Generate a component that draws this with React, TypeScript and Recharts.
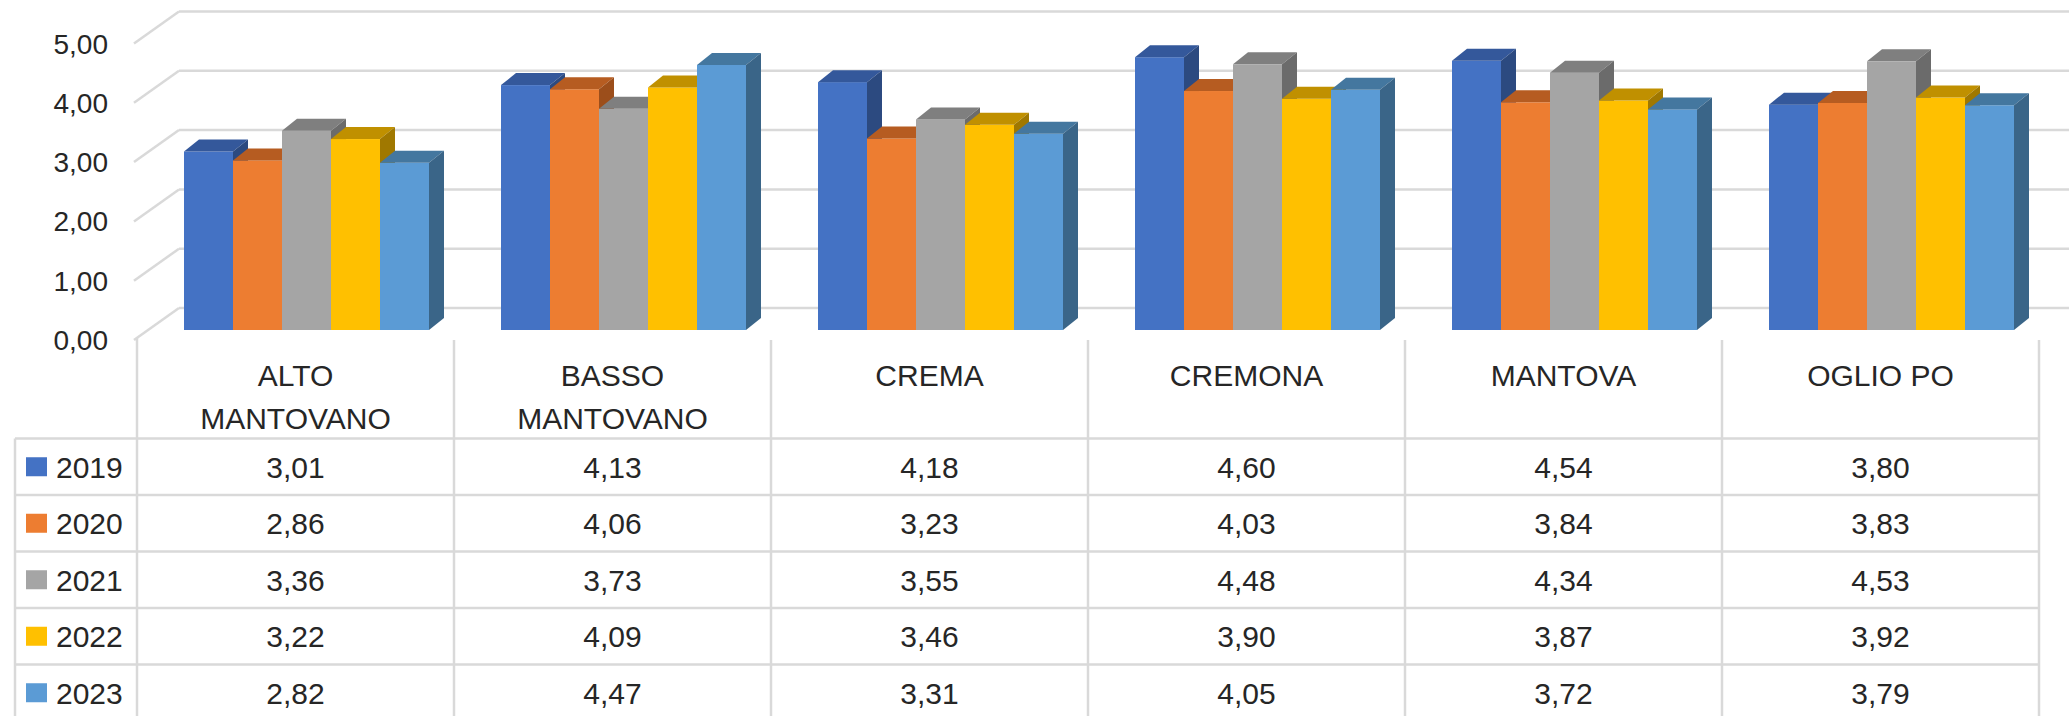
import React from "react";
import { BarChart, Bar, XAxis, YAxis, CartesianGrid } from "recharts";

// ---------- data ----------
const categories = ["ALTO MANTOVANO", "BASSO MANTOVANO", "CREMA", "CREMONA", "MANTOVA", "OGLIO PO"];
const categoryLabelLines = [["ALTO", "MANTOVANO"], ["BASSO", "MANTOVANO"], ["CREMA"], ["CREMONA"], ["MANTOVA"], ["OGLIO PO"]];
const seriesNames = ["2019", "2020", "2021", "2022", "2023"];
const values2019 = [3.01, 4.13, 4.18, 4.6, 4.54, 3.8];
const values2020 = [2.86, 4.06, 3.23, 4.03, 3.84, 3.83];
const values2021 = [3.36, 3.73, 3.55, 4.48, 4.34, 4.53];
const values2022 = [3.22, 4.09, 3.46, 3.9, 3.87, 3.92];
const values2023 = [2.82, 4.47, 3.31, 4.05, 3.72, 3.79];
const yTicks = [0, 1, 2, 3, 4, 5];

const seriesValues = [values2019, values2020, values2021, values2022, values2023];
const data = categories.map((c, i) => {
  const row: any = { name: c };
  seriesNames.forEach((s, k) => (row[s] = seriesValues[k][i]));
  return row;
});

// ---------- styles ----------
const frontColors = ["#4472C4", "#ED7D31", "#A5A5A5", "#FFC000", "#5B9BD5"];
const topColors = ["#34589b", "#b65c21", "#7f7f7f", "#c09000", "#44779f"];
const sideColors = ["#2c4a80", "#9c4e1b", "#6b6b6b", "#a07800", "#3a6588"];

const W = 2069;
const H = 716;
const PLOT_LEFT = 137;
const PLOT_RIGHT = 2039;
const PLOT_TOP = 33.5;
const PLOT_BOTTOM = 330;
const FONT = "'Liberation Sans', Arial, sans-serif";
const TEXT = "#262626";
const GRID = "#d9d9d9";

const BAR_DX = 11;
const DEPTH_X = 15;
const DEPTH_Y = 12;
const FRONT_DY = 10;
const BACK_DY = -22;
const FRONT_X = 134;
const BACK_X = 179;

const TABLE_TOP = PLOT_BOTTOM + FRONT_DY;
const HEADER_BOTTOM = 438.5;
const ROW_H = 56.5;
const LEGEND_LEFT = 15;

const fmt = (v: number) => v.toFixed(2).replace(".", ",");

const make3DShape = (k: number) => (props: any) => {
  const { x, y, width, height } = props;
  if (width == null || height == null) return <g />;
  const fx = x + BAR_DX;
  const fy = y;
  const w = width;
  const h = height;
  return (
    <g>
      <rect x={fx} y={fy} width={w} height={h} fill={frontColors[k]} />
      <polygon
        points={`${fx},${fy} ${fx + DEPTH_X},${fy - DEPTH_Y} ${fx + w + DEPTH_X},${fy - DEPTH_Y} ${fx + w},${fy}`}
        fill={topColors[k]}
      />
      <polygon
        points={`${fx + w},${fy} ${fx + w + DEPTH_X},${fy - DEPTH_Y} ${fx + w + DEPTH_X},${fy + h - DEPTH_Y} ${fx + w},${fy + h}`}
        fill={sideColors[k]}
      />
    </g>
  );
};

const renderGridLine = (props: any) => {
  const { y1 } = props;
  const yb = y1 + BACK_DY;
  const yf = y1 + FRONT_DY;
  return (
    <g key={`grid-${y1}`}>
      <line x1={FRONT_X} y1={yf} x2={BACK_X} y2={yb} stroke={GRID} strokeWidth={2.5} />
      <line x1={BACK_X} y1={yb} x2={W} y2={yb} stroke={GRID} strokeWidth={2.5} />
    </g>
  );
};

const YTick = (props: any) => {
  const { y, payload } = props;
  return (
    <text x={108} y={y + FRONT_DY} dy="0.36em" textAnchor="end" fontSize={28} fontFamily={FONT} fill={TEXT}>
      {fmt(payload.value)}
    </text>
  );
};

const XTick = (props: any) => {
  const { x, payload } = props;
  const i = categories.indexOf(payload.value);
  const bw = (PLOT_RIGHT - PLOT_LEFT) / categories.length;
  const left = x - bw / 2;
  const right = x + bw / 2;
  const rowTops = seriesNames.map((_, r) => HEADER_BOTTOM + r * ROW_H);
  const els: any[] = [];
  els.push(<line key="vl" x1={left} y1={i === 0 ? TABLE_TOP - 2 : TABLE_TOP} x2={left} y2={H} stroke={GRID} strokeWidth={2.5} />);
  if (i === categories.length - 1) {
    els.push(<line key="vr" x1={right} y1={TABLE_TOP} x2={right} y2={H} stroke={GRID} strokeWidth={2.5} />);
  }
  rowTops.forEach((rt, r) => {
    els.push(<line key={`h${r}`} x1={left} y1={rt} x2={right} y2={rt} stroke={GRID} strokeWidth={2.5} />);
    els.push(
      <text key={`v${r}`} x={x} y={rt + ROW_H / 2} dy="0.36em" textAnchor="middle" fontSize={30} fontFamily={FONT} fill={TEXT}>
        {fmt(seriesValues[r][i])}
      </text>
    );
  });
  (categoryLabelLines[i] || []).forEach((ln, l) => {
    els.push(
      <text key={`c${l}`} x={x} y={375 + l * 43} dy="0.36em" textAnchor="middle" fontSize={30} fontFamily={FONT} fill={TEXT}>
        {ln}
      </text>
    );
  });
  if (i === 0) {
    els.push(<line key="ll" x1={LEGEND_LEFT} y1={HEADER_BOTTOM} x2={LEGEND_LEFT} y2={H} stroke={GRID} strokeWidth={2.5} />);
    rowTops.forEach((rt, r) => {
      els.push(<line key={`lh${r}`} x1={LEGEND_LEFT} y1={rt} x2={left} y2={rt} stroke={GRID} strokeWidth={2.5} />);
      els.push(<rect key={`ls${r}`} x={26} y={rt + ROW_H / 2 - 9.5} width={21} height={19} fill={frontColors[r]} />);
      els.push(
        <text key={`lt${r}`} x={56} y={rt + ROW_H / 2} dy="0.36em" textAnchor="start" fontSize={30} fontFamily={FONT} fill={TEXT}>
          {seriesNames[r]}
        </text>
      );
    });
  }
  return <g>{els}</g>;
};

export default function App() {
  return (
    <div style={{ position: "absolute", left: 0, top: 0, width: W, height: H, background: "#fff" }}>
      <BarChart
        width={W}
        height={H}
        data={data}
        margin={{ top: PLOT_TOP, right: W - PLOT_RIGHT, bottom: 0, left: 0 }}
        barGap={0}
      >
        <CartesianGrid vertical={false} horizontal={renderGridLine as any} />
        <YAxis
          type="number"
          domain={[0, 5]}
          ticks={yTicks}
          width={PLOT_LEFT}
          axisLine={false}
          tickLine={false}
          tick={<YTick />}
          interval={0}
        />
        <XAxis
          dataKey="name"
          height={H - PLOT_BOTTOM}
          axisLine={false}
          tickLine={false}
          interval={0}
          tick={<XTick />}
        />
        {seriesNames.map((s, k) => (
          <Bar key={s} dataKey={s} barSize={49} fill={frontColors[k]} shape={make3DShape(k)} isAnimationActive={false} />
        ))}
      </BarChart>
    </div>
  );
}
